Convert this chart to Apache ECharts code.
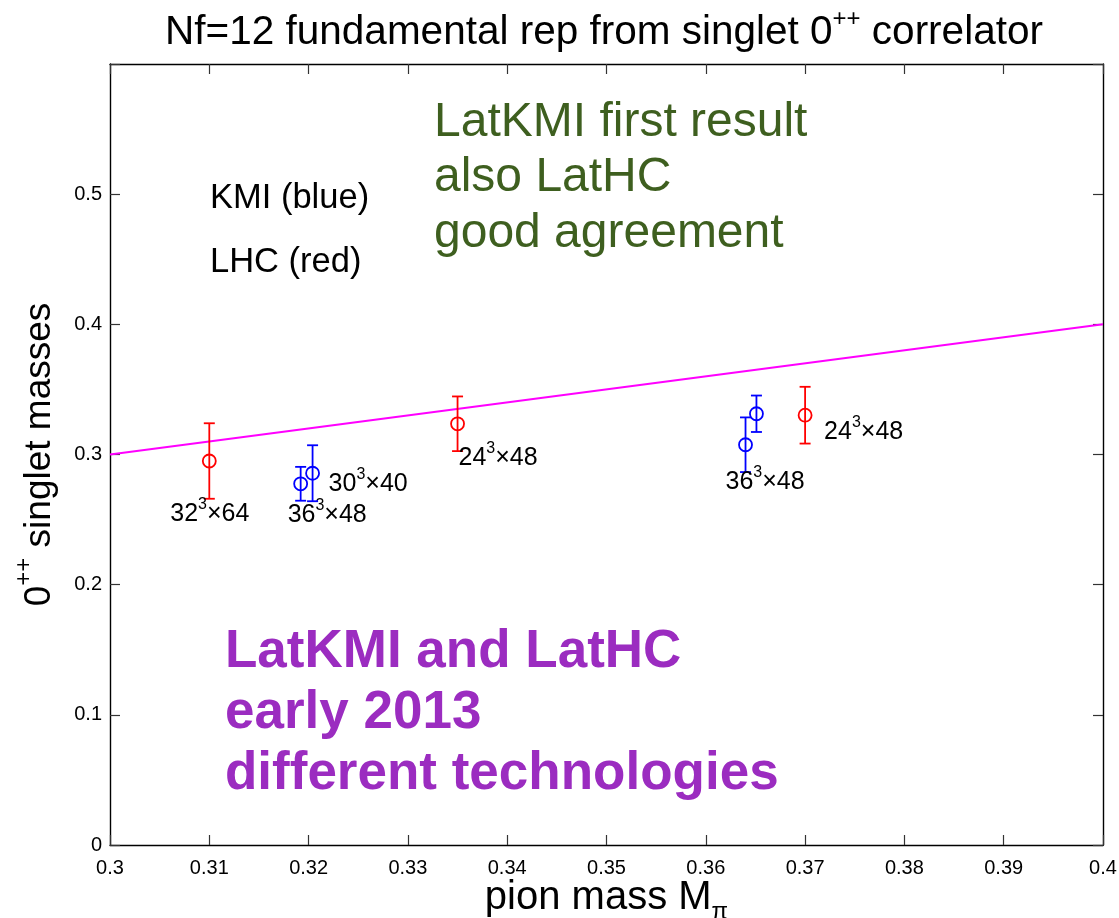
<!DOCTYPE html>
<html><head><meta charset="utf-8">
<script src="https://cdn.jsdelivr.net/npm/echarts@6/dist/echarts.min.js"></script>
<style>html,body{margin:0;padding:0;background:#fff}#c{width:1119px;height:918px}</style>
</head><body><div id="c"></div>
<script>
// ---- data ----
const kmiX = [0.3192, 0.3204, 0.3640, 0.3651];
const kmiY = [0.2775, 0.2856, 0.3075, 0.3313];
const kmiErr = [0.0130, 0.0215, 0.0210, 0.0140];
const kmiLabels = [['36', '3', '×48'], ['30', '3', '×40'], ['36', '3', '×48'], null];
const lhcX = [0.310, 0.335, 0.370];
const lhcY = [0.2950, 0.3236, 0.3302];
const lhcErr = [0.0290, 0.0210, 0.0218];
const lhcLabels = [['32', '3', '×64'], ['24', '3', '×48'], ['24', '3', '×48']];
const fitX = [0.3, 0.4];
const fitY = [0.3, 0.4];
const xTickLabels = ['0.3','0.31','0.32','0.33','0.34','0.35','0.36','0.37','0.38','0.39','0.4'];
const yTickLabels = ['0','0.1','0.2','0.3','0.4','0.5'];

// ---- layout / style ----
const FF = '"Liberation Sans", Arial, Helvetica, sans-serif';
const kmiOffsets = [[-13, 29], [16, 8], [-20, 35], [0, 0]];
const lhcOffsets = [[-39, 51], [1, 32], [19, 14]];
const labelRich = {
  a: { fontSize: 25, fontFamily: FF, fill: '#000', textFill: '#000', lineHeight: 30, verticalAlign: 'bottom' },
  s: { fontSize: 16, fontFamily: FF, fill: '#000', textFill: '#000', lineHeight: 30, verticalAlign: 'top' }
};

function errRender(color, labels, offsets) {
  return function (params, api) {
    const i = params.dataIndex;
    const x = api.value(0), y = api.value(1), e = api.value(2);
    const c = api.coord([x, y]), t = api.coord([x, y + e]), b = api.coord([x, y - e]);
    const w = 5.5;
    const ls = { stroke: color, lineWidth: 1.8, fill: null };
    const ch = [
      { type: 'line', shape: { x1: t[0], y1: t[1], x2: b[0], y2: b[1] }, style: ls },
      { type: 'line', shape: { x1: t[0] - w, y1: t[1], x2: t[0] + w, y2: t[1] }, style: ls },
      { type: 'line', shape: { x1: b[0] - w, y1: b[1], x2: b[0] + w, y2: b[1] }, style: ls },
      { type: 'circle', shape: { cx: c[0], cy: c[1], r: 6.5 }, style: { stroke: color, lineWidth: 1.8, fill: 'none' } }
    ];
    const L = labels[i];
    if (L) {
      const o = offsets[i];
      ch.push({ type: 'text', x: c[0] + o[0], y: c[1] + o[1],
        style: { text: '{a|' + L[0] + '}{s|' + L[1] + '}{a|' + L[2] + '}', rich: labelRich,
          align: 'left', textAlign: 'left', verticalAlign: 'middle', textVerticalAlign: 'middle' } });
    }
    return { type: 'group', children: ch };
  };
}

const axisLineStyle = { color: '#000', width: 1.4 };
const tickStyle = { show: true, inside: true, length: 10, lineStyle: { color: '#333', width: 1.2 } };

const chart = echarts.init(document.getElementById('c'), null, { renderer: 'canvas' });
chart.setOption({
  animation: false,
  backgroundColor: '#fff',
  grid: { left: 110, right: 16, top: 64, bottom: 73, containLabel: false, outerBoundsMode: 'none' },
  xAxis: [
    { type: 'value', min: 0.3, max: 0.4, interval: 0.01, position: 'bottom',
      axisLine: { show: true, onZero: false, lineStyle: axisLineStyle },
      axisTick: tickStyle, splitLine: { show: false },
      axisLabel: { margin: 13, fontSize: 20, color: '#000', fontFamily: FF,
        formatter: v => xTickLabels[Math.round((v - 0.3) / 0.01)] },
      name: '{a|pion mass M}{s|π}', nameLocation: 'middle', nameGap: 33, nameMoveOverlap: false,
      nameTextStyle: { rich: {
        a: { fontSize: 40, fontFamily: FF, color: '#000', lineHeight: 46, verticalAlign: 'top' },
        s: { fontSize: 24, fontFamily: FF, color: '#000', lineHeight: 46, verticalAlign: 'bottom' } } } },
    { type: 'value', min: 0.3, max: 0.4, interval: 0.01, position: 'top',
      axisLine: { show: true, onZero: false, lineStyle: axisLineStyle },
      axisTick: tickStyle, axisLabel: { show: false }, splitLine: { show: false } }
  ],
  yAxis: [
    { type: 'value', min: 0, max: 0.6, interval: 0.1, position: 'left',
      axisLine: { show: true, onZero: false, lineStyle: axisLineStyle },
      axisTick: tickStyle, splitLine: { show: false },
      axisLabel: { margin: 8, fontSize: 20, color: '#000', fontFamily: FF,
        formatter: v => { const k = Math.round(v / 0.1); return k < yTickLabels.length ? yTickLabels[k] : ''; } },
      name: '{a|0}{s|++}{a| singlet masses}', nameLocation: 'middle', nameGap: 52, nameMoveOverlap: false,
      nameTextStyle: { rich: {
        a: { fontSize: 37, fontFamily: FF, color: '#000', lineHeight: 46, verticalAlign: 'bottom' },
        s: { fontSize: 24, fontFamily: FF, color: '#000', lineHeight: 46, verticalAlign: 'top' } } } },
    { type: 'value', min: 0, max: 0.6, interval: 0.1, position: 'right',
      axisLine: { show: true, onZero: false, lineStyle: axisLineStyle },
      axisTick: tickStyle, axisLabel: { show: false }, splitLine: { show: false } }
  ],
  graphic: [
    { type: 'text', x: 604, y: 30, z: 10,
      style: { text: '{a|Nf=12 fundamental rep from singlet 0}{s|++}{a| correlator}',
        align: 'center', textAlign: 'center', verticalAlign: 'middle', textVerticalAlign: 'middle',
        rich: {
          a: { fontSize: 40.5, fontFamily: FF, fill: '#000', textFill: '#000', lineHeight: 46, verticalAlign: 'bottom' },
          s: { fontSize: 24, fontFamily: FF, fill: '#000', textFill: '#000', lineHeight: 46, verticalAlign: 'top' } } } },
    { type: 'text', x: 210, y: 198, z: 10,
      style: { text: 'KMI (blue)', font: '34.5px ' + FF, fill: '#000', textFill: '#000',
        align: 'left', textAlign: 'left', verticalAlign: 'middle', textVerticalAlign: 'middle' } },
    { type: 'text', x: 210, y: 262, z: 10,
      style: { text: 'LHC (red)', font: '34.5px ' + FF, fill: '#000', textFill: '#000',
        align: 'left', textAlign: 'left', verticalAlign: 'middle', textVerticalAlign: 'middle' } },
    { type: 'text', x: 434, y: 95, z: 10,
      style: { text: 'LatKMI first result\nalso LatHC\ngood agreement', font: '48px ' + FF,
        lineHeight: 55.5, fill: '#3e5f1f', textFill: '#3e5f1f',
        align: 'left', textAlign: 'left', verticalAlign: 'top', textVerticalAlign: 'top' } },
    { type: 'text', x: 225, y: 622, z: 10,
      style: { text: 'LatKMI and LatHC\nearly 2013\ndifferent technologies', font: 'bold 53px ' + FF,
        lineHeight: 61, fill: '#9b2cc0', textFill: '#9b2cc0',
        align: 'left', textAlign: 'left', verticalAlign: 'top', textVerticalAlign: 'top' } }
  ],
  series: [
    { type: 'line', data: fitX.map((x, i) => [x, fitY[i]]), symbol: 'none', silent: true,
      lineStyle: { color: '#ff00ff', width: 2 }, z: 2 },
    { type: 'custom', data: lhcX.map((x, i) => [x, lhcY[i], lhcErr[i]]),
      renderItem: errRender('#ff0000', lhcLabels, lhcOffsets), z: 3 },
    { type: 'custom', data: kmiX.map((x, i) => [x, kmiY[i], kmiErr[i]]),
      renderItem: errRender('#0000ff', kmiLabels, kmiOffsets), z: 3 }
  ]
});
</script></body></html>
